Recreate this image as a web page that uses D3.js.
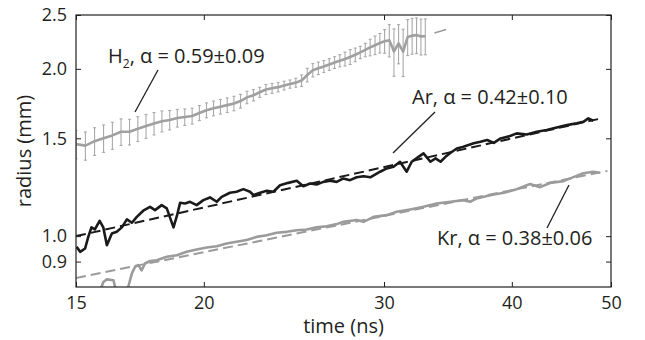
<!DOCTYPE html>
<html>
<head>
<meta charset="utf-8">
<script src="https://cdn.jsdelivr.net/npm/d3@7"></script>
<style>
  body { margin: 0; background: #fff; }
  svg text { font-family: "Open Sans", sans-serif; fill: #231f20; }
</style>
</head>
<body>
<svg id="chart" width="645" height="340"></svg>
<script>

// H2: radius with error bars
const h2Time = [15.00, 15.32, 15.64, 15.96, 16.28, 16.60, 16.92, 17.24, 17.56, 17.88,
  18.20, 18.52, 18.84, 19.16, 19.48, 19.80, 20.12, 20.44, 20.76, 21.08,
  21.40, 21.72, 22.04, 22.36, 22.68, 23.00, 23.32, 23.64, 23.96, 24.28,
  24.60, 24.92, 25.24, 25.56, 25.88, 26.20, 26.52, 26.84, 27.16, 27.48,
  27.80, 28.12, 28.44, 28.76, 29.08, 29.40, 29.72, 30.04, 30.36, 30.68,
  31.00, 31.32, 31.64, 31.96, 32.28, 32.60, 32.92];
const h2Radius = [1.464, 1.455, 1.482, 1.500, 1.518, 1.541, 1.541, 1.560, 1.578, 1.595,
  1.610, 1.618, 1.631, 1.638, 1.645, 1.666, 1.685, 1.698, 1.710, 1.721,
  1.733, 1.750, 1.777, 1.793, 1.815, 1.836, 1.845, 1.854, 1.866, 1.878,
  1.889, 1.905, 1.950, 1.989, 2.005, 2.020, 2.037, 2.053, 2.069, 2.084,
  2.101, 2.120, 2.141, 2.163, 2.186, 2.206, 2.226, 2.243, 2.252, 2.150,
  2.222, 2.147, 2.283, 2.295, 2.300, 2.288, 2.290];
const h2Error = [0.085, 0.085, 0.085, 0.085, 0.085, 0.085, 0.082, 0.080, 0.078, 0.074,
  0.070, 0.065, 0.060, 0.056, 0.054, 0.052, 0.052, 0.052, 0.052, 0.052,
  0.052, 0.050, 0.046, 0.042, 0.038, 0.038, 0.038, 0.036, 0.034, 0.032,
  0.035, 0.045, 0.055, 0.055, 0.052, 0.050, 0.050, 0.050, 0.052, 0.060,
  0.065, 0.060, 0.055, 0.060, 0.075, 0.085, 0.090, 0.110, 0.150, 0.210,
  0.180, 0.210, 0.170, 0.170, 0.170, 0.170, 0.170];

// Ar
const arTime = [15.02, 15.14, 15.31, 15.42, 15.53, 15.65, 15.82, 15.95, 16.08, 16.26,
  16.44, 16.63, 16.82, 17.01, 17.20, 17.45, 17.72, 17.92, 18.19, 18.40,
  18.68, 18.82, 18.96, 19.17, 19.39, 19.68, 19.98, 20.28, 20.59, 20.82,
  21.21, 21.53, 21.86, 22.19, 22.36, 22.70, 23.04, 23.39, 23.74, 24.19,
  24.65, 25.02, 25.40, 25.78, 26.17, 26.57, 26.97, 27.38, 27.79, 28.21,
  28.65, 29.09, 29.74, 30.19, 30.65, 31.10, 31.57, 31.93, 32.42, 32.79,
  33.30, 33.69, 34.07, 34.45, 34.85, 35.34, 35.87, 36.71, 37.27, 37.84,
  38.41, 39.00, 39.84, 40.44, 41.36, 42.31, 43.26, 44.25, 45.28, 46.29,
  46.98, 47.51, 48.05];
const arRadius = [0.957, 0.937, 0.950, 0.997, 1.037, 1.028, 1.065, 1.037, 0.963, 1.011,
  1.018, 1.037, 1.072, 1.057, 1.083, 1.111, 1.129, 1.114, 1.137, 1.122,
  1.037, 1.086, 1.148, 1.145, 1.153, 1.137, 1.161, 1.174, 1.153, 1.177,
  1.197, 1.202, 1.215, 1.202, 1.185, 1.197, 1.207, 1.202, 1.235, 1.247,
  1.258, 1.230, 1.244, 1.239, 1.252, 1.258, 1.252, 1.270, 1.261, 1.276,
  1.282, 1.276, 1.306, 1.324, 1.333, 1.361, 1.306, 1.361, 1.389, 1.409,
  1.361, 1.380, 1.361, 1.389, 1.413, 1.438, 1.448, 1.469, 1.478, 1.489,
  1.472, 1.499, 1.514, 1.531, 1.524, 1.541, 1.552, 1.569, 1.584, 1.596,
  1.606, 1.629, 1.613];

// Kr
const krTime = [15.80, 15.89, 15.95, 16.08, 16.32, 16.38, 16.60, 16.87, 17.01, 17.13,
  17.26, 17.39, 17.52, 17.72, 17.99, 18.40, 18.82, 19.24, 19.68, 20.13,
  20.59, 21.05, 21.53, 22.02, 22.52, 23.04, 23.56, 24.10, 24.65, 25.21,
  25.78, 26.37, 26.97, 27.38, 28.21, 28.65, 29.31, 30.19, 30.87, 31.82,
  32.78, 33.78, 34.85, 35.87, 36.41, 36.96, 38.09, 39.29, 40.44, 41.67,
  42.63, 43.59, 44.92, 45.95, 46.98, 48.05, 48.77];
const krRadius = [0.790, 0.810, 0.827, 0.836, 0.833, 0.810, 0.780, 0.810, 0.857, 0.880,
  0.887, 0.868, 0.893, 0.902, 0.905, 0.918, 0.924, 0.937, 0.946, 0.954,
  0.959, 0.970, 0.977, 0.984, 0.997, 1.004, 1.014, 1.018, 1.025, 1.028,
  1.037, 1.042, 1.051, 1.061, 1.069, 1.061, 1.083, 1.091, 1.106, 1.117,
  1.129, 1.145, 1.153, 1.161, 1.153, 1.169, 1.185, 1.197, 1.215, 1.241,
  1.225, 1.246, 1.256, 1.277, 1.298, 1.306, 1.300];

// power-law fits (straight on log-log); the H2 fit only shows past the data
const h2FitTime = [33.6, 34.5];
const h2FitRadius = [2.32, 2.354];
const arFitTime = [15, 49];
const arFitRadius = [1.0, 1.63];
const krFitTime = [15, 49.6];
const krFitRadius = [0.841, 1.31];

const xTicks = [15, 20, 30, 40, 50];
const yTicks = [0.9, 1.0, 1.5, 2.0, 2.5];

const width = 645;
const height = 340;
const margin = {top: 15, right: 34, bottom: 53, left: 76};
const ink = '#231f20';
const grey = '#9b9b9b';

const svg = d3.select('#chart');

const x = d3.scaleLog().domain([15, 50]).range([margin.left, width - margin.right]);
const y = d3.scaleLog().domain([0.81, 2.5]).range([height - margin.bottom, margin.top]);

const zip = (ts, rs) => ts.map((t, i) => ({t: t, r: rs[i]}));
const line = d3.line().x(d => x(d.t)).y(d => y(d.r));

svg.append('defs').append('clipPath').attr('id', 'plot-area')
  .append('rect')
  .attr('x', x.range()[0]).attr('y', y.range()[1])
  .attr('width', x.range()[1] - x.range()[0])
  .attr('height', y.range()[0] - y.range()[1]);

const plot = svg.append('g').attr('clip-path', 'url(#plot-area)');

// H2 fit tail
plot.append('path')
  .datum(zip(h2FitTime, h2FitRadius))
  .attr('d', line)
  .attr('fill', 'none').attr('stroke', grey)
  .attr('stroke-width', 1.6);

// H2 error bars
const h2 = zip(h2Time, h2Radius).map((d, i) => ({...d, e: h2Error[i]}));
const bars = plot.append('g').attr('stroke', '#a9a9a9').attr('stroke-width', 1.1);
bars.selectAll('line.bar')
  .data(h2)
  .join('line').attr('class', 'bar')
  .attr('x1', d => x(d.t)).attr('x2', d => x(d.t))
  .attr('y1', d => y(d.r - d.e)).attr('y2', d => y(d.r + d.e));
bars.selectAll('line.cap-top')
  .data(h2)
  .join('line').attr('class', 'cap-top')
  .attr('x1', d => x(d.t) - 1.5).attr('x2', d => x(d.t) + 1.5)
  .attr('y1', d => y(d.r + d.e)).attr('y2', d => y(d.r + d.e));
bars.selectAll('line.cap-bottom')
  .data(h2)
  .join('line').attr('class', 'cap-bottom')
  .attr('x1', d => x(d.t) - 1.5).attr('x2', d => x(d.t) + 1.5)
  .attr('y1', d => y(d.r - d.e)).attr('y2', d => y(d.r - d.e));

plot.append('path')
  .datum(h2)
  .attr('d', line)
  .attr('fill', 'none').attr('stroke', '#a0a0a0')
  .attr('stroke-width', 2.6).attr('stroke-linejoin', 'round');

// Ar
plot.append('path')
  .datum(zip(arTime, arRadius))
  .attr('d', line)
  .attr('fill', 'none').attr('stroke', '#1a1a1a')
  .attr('stroke-width', 2.6).attr('stroke-linejoin', 'round');
plot.append('path')
  .datum(zip(arFitTime, arFitRadius))
  .attr('d', line)
  .attr('fill', 'none').attr('stroke', '#1a1a1a')
  .attr('stroke-width', 2).attr('stroke-dasharray', '10,5');

// Kr
plot.append('path')
  .datum(zip(krTime, krRadius))
  .attr('d', line)
  .attr('fill', 'none').attr('stroke', grey)
  .attr('stroke-width', 2.6).attr('stroke-linejoin', 'round');
plot.append('path')
  .datum(zip(krFitTime, krFitRadius))
  .attr('d', line)
  .attr('fill', 'none').attr('stroke', grey)
  .attr('stroke-width', 2).attr('stroke-dasharray', '10,5');

// axes: MATLAB style, ticks pointing in, on all four sides
function styleAxis(g) {
  g.select('.domain').remove();
  g.selectAll('.tick line').attr('stroke', ink).attr('stroke-width', 1);
  g.selectAll('.tick text').attr('font-size', 18).attr('fill', ink)
    .attr('font-family', '"Open Sans", sans-serif');
}

svg.append('g')
  .attr('transform', `translate(0,${y.range()[0]})`)
  .call(d3.axisBottom(x).tickValues(xTicks).tickFormat(d3.format('d')).tickSize(-5).tickPadding(9))
  .call(styleAxis);
svg.append('g')
  .attr('transform', `translate(0,${y.range()[1]})`)
  .call(d3.axisTop(x).tickValues(xTicks).tickFormat('').tickSize(-5))
  .call(styleAxis);
svg.append('g')
  .attr('transform', `translate(${x.range()[0]},0)`)
  .call(d3.axisLeft(y).tickValues(yTicks).tickFormat(d3.format('.1f')).tickSize(-5).tickPadding(9))
  .call(styleAxis);
svg.append('g')
  .attr('transform', `translate(${x.range()[1]},0)`)
  .call(d3.axisRight(y).tickValues(yTicks).tickFormat('').tickSize(-5))
  .call(styleAxis);

svg.append('rect')
  .attr('x', x.range()[0]).attr('y', y.range()[1])
  .attr('width', x.range()[1] - x.range()[0])
  .attr('height', y.range()[0] - y.range()[1])
  .attr('fill', 'none').attr('stroke', ink).attr('stroke-width', 1.2);

// axis titles
svg.append('text')
  .attr('x', (x.range()[0] + x.range()[1]) / 2).attr('y', 333)
  .attr('text-anchor', 'middle').attr('font-size', 20)
  .text('time (ns)');
svg.append('text')
  .attr('transform', `translate(31,${(y.range()[0] + y.range()[1]) / 2}) rotate(-90)`)
  .attr('text-anchor', 'middle').attr('font-size', 20)
  .text('radius (mm)');

// annotations with leader lines
const notes = svg.append('g').attr('font-size', 20);

const h2Label = notes.append('text').attr('x', 108).attr('y', 63);
h2Label.append('tspan').text('H');
h2Label.append('tspan').attr('font-size', 12).attr('dy', 5).text('2');
h2Label.append('tspan').attr('dy', -5).text(', \u03b1 = 0.59\u00b10.09');

notes.append('text').attr('x', 412).attr('y', 104)
  .text('Ar, \u03b1 = 0.42\u00b10.10');
notes.append('text').attr('x', 437).attr('y', 245)
  .text('Kr, \u03b1 = 0.38\u00b10.06');

const leaders = [
  [[158, 70], [135, 112]],
  [[435, 112], [393, 153]],
  [[569, 185], [547, 228]]
];
notes.selectAll('line')
  .data(leaders)
  .join('line')
  .attr('x1', d => d[0][0]).attr('y1', d => d[0][1])
  .attr('x2', d => d[1][0]).attr('y2', d => d[1][1])
  .attr('stroke', ink).attr('stroke-width', 1.3);

</script>
</body>
</html>
